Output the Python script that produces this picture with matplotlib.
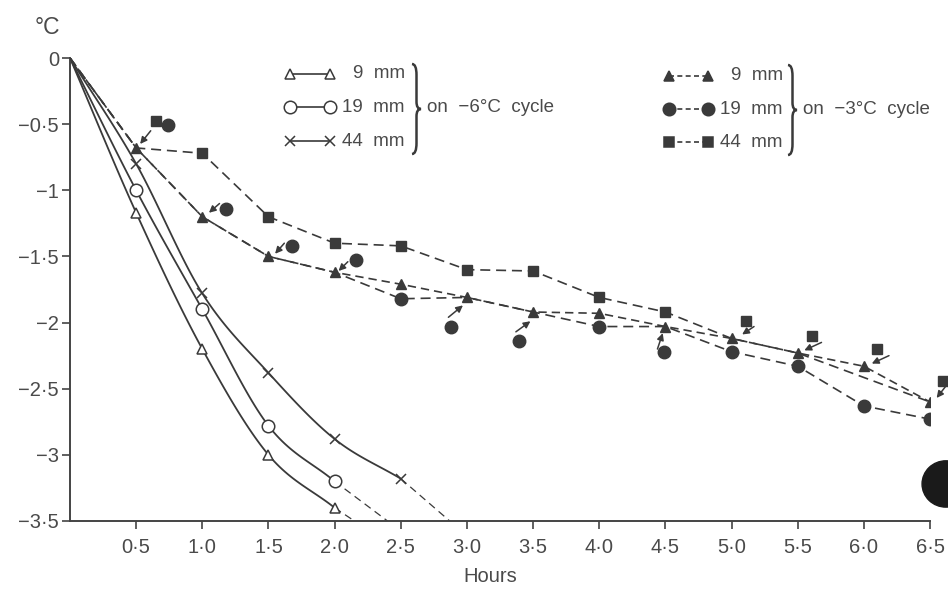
import numpy as np
import matplotlib
matplotlib.use("Agg")
import matplotlib.pyplot as plt
from matplotlib.path import Path
from matplotlib.patches import PathPatch, Ellipse
from matplotlib.lines import Line2D

plt.rcParams['font.family'] = ['Liberation Sans', 'DejaVu Sans']

INK = '#3a3a3a'
TXT = '#4a4a4a'

# -6 C cycle (solid lines, open markers)
hours_6 = [0, 0.5, 1.0, 1.5, 2.0, 2.5]
c6_9mm = [0, -1.17, -2.20, -3.00, -3.40]
c6_19mm = [0, -1.00, -1.90, -2.78, -3.20]
c6_44mm = [0, -0.80, -1.78, -2.38, -2.88, -3.18]
# where the dashed continuation meets the -3.5 line
c6_ext_hours = [2.15, 2.40, 2.87]

# -3 C cycle (dashed lines, filled markers)
hours_3 = [0, 0.5, 1.0, 1.5, 2.0, 2.5, 3.0, 3.5, 4.0, 4.5, 5.0, 5.5, 6.0, 6.5]
c3_9mm = [0, -0.68, -1.20, -1.50, -1.62, -1.71, -1.81, -1.92, -1.93, -2.03,
          -2.12, -2.23, -2.33, -2.60]
c3_19mm = [0, -0.68, -1.20, -1.50, -1.62, -1.82, -1.81, -1.92, -2.03, -2.03,
           -2.22, -2.33, -2.63, -2.73]
hours_3_44 = [0, 0.5, 1.0, 1.5, 2.0, 2.5, 3.0, 3.5, 4.0, 4.5, 5.0, 5.5, 6.5]
c3_44mm = [0, -0.68, -0.72, -1.20, -1.40, -1.42, -1.60, -1.61, -1.81, -1.92,
           -2.12, -2.23, -2.60]
# markers actually drawn on the line (others are shown offset with an arrow)
show_9mm = list(range(1, 14))
show_19mm = [5, 8, 10, 11, 12, 13]
show_44mm = [2, 3, 4, 5, 6, 7, 8, 9]

# offset markers and their arrows (tail -> head)
moved_circles = [(0.74, -0.51), (1.18, -1.14), (1.68, -1.42), (2.16, -1.53),
                 (2.88, -2.03), (3.39, -2.14), (4.49, -2.22)]
moved_squares = [(0.65, -0.48), (5.11, -1.99), (5.61, -2.10), (6.10, -2.20),
                 (6.60, -2.44)]
arrows = [((0.61, -0.55), (0.53, -0.65)), ((1.13, -1.10), (1.05, -1.17)),
          ((1.62, -1.40), (1.55, -1.48)), ((2.10, -1.54), (2.03, -1.61)),
          ((2.86, -1.96), (2.97, -1.87)), ((3.37, -2.07), (3.48, -1.99)),
          ((4.44, -2.20), (4.48, -2.08)), ((5.17, -2.03), (5.08, -2.09)),
          ((5.68, -2.15), (5.55, -2.21)), ((6.19, -2.25), (6.06, -2.31)),
          ((6.62, -2.48), (6.55, -2.57))]

xticks = [0.5, 1.0, 1.5, 2.0, 2.5, 3.0, 3.5, 4.0, 4.5, 5.0, 5.5, 6.0, 6.5]
yticks = [0, -0.5, -1, -1.5, -2, -2.5, -3, -3.5]


def smooth(x, y, n=24):
    # Catmull-Rom path through the points, for drawing only
    x = np.asarray(x, float)
    y = np.asarray(y, float)
    px = np.concatenate([[2 * x[0] - x[1]], x, [2 * x[-1] - x[-2]]])
    py = np.concatenate([[2 * y[0] - y[1]], y, [2 * y[-1] - y[-2]]])
    t = np.linspace(0, 1, n, endpoint=False)
    xs, ys = [], []
    for i in range(1, len(px) - 2):
        for p, out in ((px, xs), (py, ys)):
            p0, p1, p2, p3 = p[i - 1], p[i], p[i + 1], p[i + 2]
            out.extend(0.5 * (2 * p1 + (-p0 + p2) * t
                              + (2 * p0 - 5 * p1 + 4 * p2 - p3) * t ** 2
                              + (-p0 + 3 * p1 - 3 * p2 + p3) * t ** 3))
    xs.append(x[-1])
    ys.append(y[-1])
    return xs, ys


W, H = 948, 598
fig = plt.figure(figsize=(W / 100, H / 100), dpi=100)
ax = fig.add_axes([70 / W, 1 - 521 / H, 860 / W, 463 / H])


def fp(x, y):
    return x / W, 1 - y / H


# solid curves
for ys, mk, ms, ext in ((c6_9mm, '^', 7, c6_ext_hours[0]),
                        (c6_19mm, 'o', 9, c6_ext_hours[1]),
                        (c6_44mm, 'x', 7, c6_ext_hours[2])):
    hx = hours_6[:len(ys)]
    sx, sy = smooth(hx, ys)
    ax.plot(sx, sy, color=INK, lw=1.3, zorder=2)
    ax.plot(hx[1:], ys[1:], ls='none', marker=mk, ms=ms, mfc='white',
            mec=INK, mew=1.1, zorder=3)
    ax.plot([hx[-1], ext], [ys[-1], -3.5], color=INK, lw=0.9,
            ls=(0, (6, 4)), zorder=2)

# dashed curves
ax.plot(hours_3, c3_9mm, color=INK, lw=1.2, ls=(0, (5, 3)), marker='^',
        ms=7, markevery=show_9mm, zorder=4)
ax.plot(hours_3, c3_19mm, color=INK, lw=1.2, ls=(0, (6, 3.5)), marker='o',
        ms=9, markevery=show_19mm, zorder=4)
ax.plot(hours_3_44, c3_44mm, color=INK, lw=1.2, ls=(0, (6, 3.5)), marker='s',
        ms=7.5, markevery=show_44mm, zorder=4)

ax.plot([p[0] for p in moved_circles], [p[1] for p in moved_circles],
        ls='none', marker='o', ms=9, color=INK, clip_on=False, zorder=4)
ax.plot([p[0] for p in moved_squares], [p[1] for p in moved_squares],
        ls='none', marker='s', ms=7.5, color=INK, clip_on=False, zorder=4)
for tail, head in arrows:
    ax.annotate('', xy=head, xytext=tail,
                arrowprops=dict(arrowstyle='-|>', color=INK, lw=1.1,
                                mutation_scale=10, shrinkA=0, shrinkB=0),
                annotation_clip=False)

# ink blot on the scan
ax.add_patch(Ellipse((6.62, -3.22), 0.36, 0.35, color='#1a1a1a',
                     clip_on=False, zorder=5))

ax.set_xlim(0, 6.5)
ax.set_ylim(-3.5, 0)
ax.set_xticks(xticks)
ax.set_xticklabels([f'{v:.1f}'.replace('.', '\u00b7') for v in xticks])
ax.set_yticks(yticks)
ax.set_yticklabels(['0' if v == 0 else ('\u2212' + f'{-v:g}'.replace('.', '\u00b7'))
                    for v in yticks])
for s in ('top', 'right'):
    ax.spines[s].set_visible(False)
for s in ('left', 'bottom'):
    ax.spines[s].set_color('#444444')
    ax.spines[s].set_linewidth(1.4)
ax.tick_params(direction='out', length=6, width=1.2, color='#444444',
               labelsize=14.5, labelcolor=TXT)
ax.tick_params(axis='y', pad=2)
ax.tick_params(axis='x', pad=6)

fig.text(*fp(47, 28), '\u00b0C', fontsize=16.5, color=TXT, ha='center',
         va='center')
fig.text(*fp(490, 577), 'Hours', fontsize=14.5, color=TXT, ha='center',
         va='center')

# legend, drawn by hand
rows_l = [74, 107, 141]
rows_r = [76, 109, 142]
left_keys = [('^', 7, 'white', '-', '9  mm'), ('o', 9, 'white', '-', '19  mm'),
             ('x', 7, 'white', '-', '44  mm')]
right_keys = [('^', 6.5, INK, (0, (3, 2)), '9  mm'),
              ('o', 9, INK, (0, (3, 2)), '19  mm'),
              ('s', 7, INK, (0, (3, 2)), '44  mm')]
for (x0, x1, xt), rows, keys in (((290, 330, 405), rows_l, left_keys),
                                 ((669, 708, 783), rows_r, right_keys)):
    for y, (mk, ms, fc, ls, lab) in zip(rows, keys):
        (ax0, ay), (ax1, _) = fp(x0, y), fp(x1, y)
        fig.add_artist(Line2D([ax0, ax1], [ay, ay], color=INK, lw=1.2, ls=ls,
                              marker=mk, ms=ms, mfc=fc, mec=INK, mew=1.1,
                              transform=fig.transFigure))
        fig.text(*fp(xt, y), lab, fontsize=13.5, color=TXT, ha='right',
                 va='center')


def brace(x, top, bot, w=9):
    h = bot - top
    pts = [(x, top), (x + w / 2, top), (x + w / 2, top + 0.12 * h),
           (x + w / 2, top + 0.42 * h),
           (x + w / 2, top + 0.5 * h), (x + w, top + 0.5 * h),
           (x + w / 2, top + 0.5 * h), (x + w / 2, top + 0.58 * h),
           (x + w / 2, top + 0.88 * h),
           (x + w / 2, bot), (x, bot)]
    codes = [Path.MOVETO, Path.CURVE3, Path.CURVE3, Path.LINETO,
             Path.CURVE3, Path.CURVE3, Path.CURVE3, Path.CURVE3, Path.LINETO,
             Path.CURVE3, Path.CURVE3]
    path = Path([fp(px, py) for px, py in pts], codes)
    fig.add_artist(PathPatch(path, fc='none', ec=INK, lw=1.8,
                             transform=fig.transFigure))


brace(412, 64, 154)
brace(788, 65, 155)
fig.text(*fp(427, 107), 'on  \u22126\u00b0C  cycle', fontsize=13.5, color=TXT,
         ha='left', va='center')
fig.text(*fp(803, 109), 'on  \u22123\u00b0C  cycle', fontsize=13.5, color=TXT,
         ha='left', va='center')

fig.savefig('out.png', dpi=100)
